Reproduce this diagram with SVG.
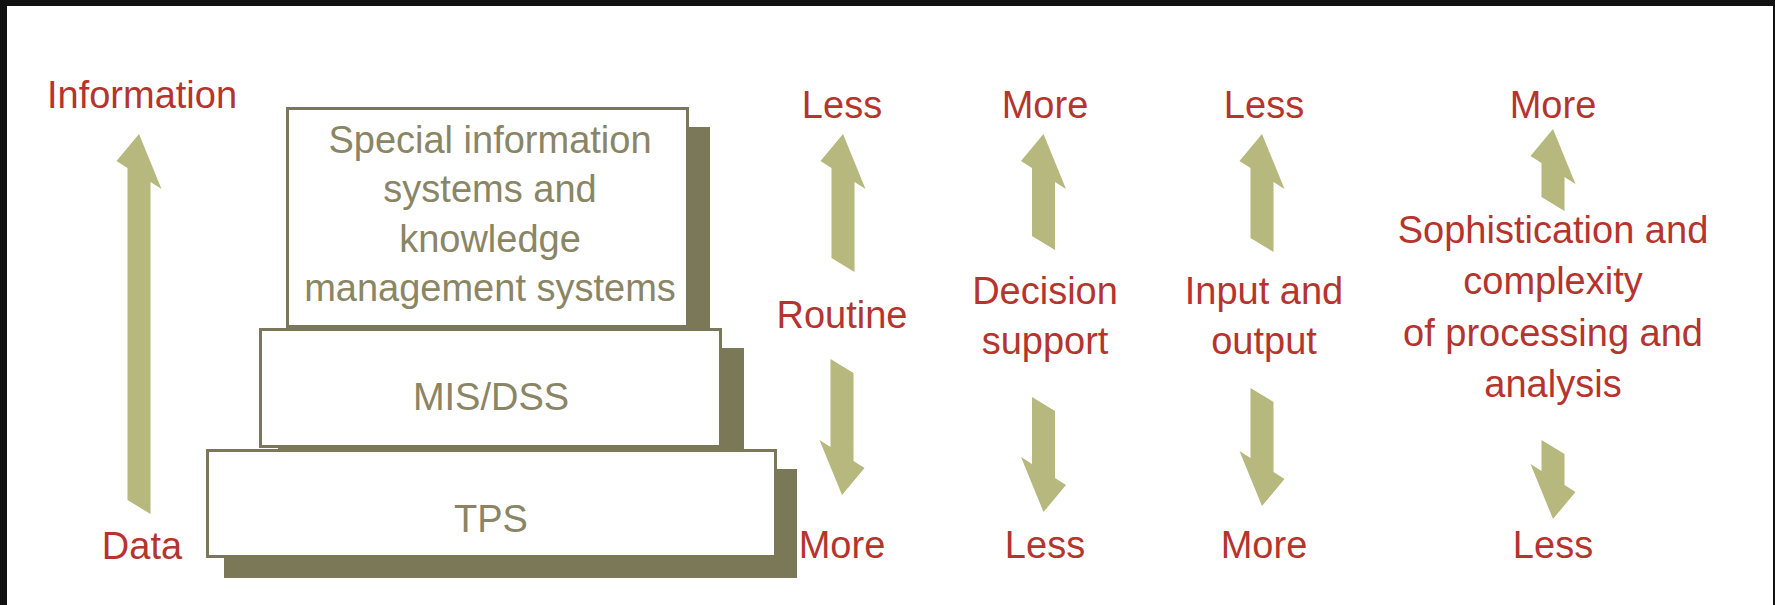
<svg xmlns="http://www.w3.org/2000/svg" width="1775" height="605" viewBox="0 0 1775 605">
<style>
.lbl{font-family:"Liberation Sans",Arial,sans-serif;font-size:38px;fill:#b5342d;text-anchor:middle}
.btx{font-family:"Liberation Sans",Arial,sans-serif;font-size:38px;fill:#8a8564;text-anchor:middle}
.box{fill:#ffffff;stroke:#7b7858;stroke-width:3}
.shd{fill:#7b7858}
.arr{fill:#b6b87d}
</style>
<rect x="0" y="0" width="1775" height="605" fill="#ffffff"/>
<rect x="0" y="0" width="1775" height="6" fill="#111111"/>
<rect x="0" y="0" width="7" height="605" fill="#111111"/>
<rect x="1773" y="0" width="2" height="605" fill="#111111"/>

<g id="box-special">
<rect class="shd" x="305" y="127" width="405" height="220"/>
<rect class="box" x="287.5" y="108.5" width="400" height="218"/>
<text class="btx" x="490" y="153">Special information</text>
<text class="btx" x="490" y="202">systems and</text>
<text class="btx" x="490" y="252">knowledge</text>
<text class="btx" x="490" y="301">management systems</text>
</g>
<g id="box-mis">
<rect class="shd" x="278" y="348" width="466" height="120"/>
<rect class="box" x="260.5" y="329.5" width="460" height="117"/>
<text class="btx" x="491" y="410">MIS/DSS</text>
</g>
<g id="box-tps">
<rect class="shd" x="224" y="469" width="573" height="109"/>
<rect class="box" x="207.5" y="450.5" width="568" height="106"/>
<text class="btx" x="491" y="532">TPS</text>
</g>

<g id="connectors">
<polygon class="arr" points="139,134 161.5,189 150.5,182 150.5,514 127.5,500 127.5,168 116.5,161"/>
<polygon class="arr" points="843,134 865.5,189 854.5,182 854.5,272 831.5,258 831.5,168 820.5,161"/>
<polygon class="arr" points="830.5,359 853.5,373 853.5,461 864.5,468 842,495 819.5,440 830.5,447"/>
<polygon class="arr" points="1043.5,134 1066,189 1055,182 1055,250 1032,236 1032,168 1021,161"/>
<polygon class="arr" points="1032,397 1055,411 1055,478 1066,485 1043.5,512 1021,457 1032,464"/>
<polygon class="arr" points="1262,134 1284.5,189 1273.5,182 1273.5,252 1250.5,238 1250.5,168 1239.5,161"/>
<polygon class="arr" points="1250.5,388 1273.5,402 1273.5,472 1284.5,479 1262,506 1239.5,451 1250.5,458"/>
<polygon class="arr" points="1553,129 1575.5,184 1564.5,177 1564.5,211 1541.5,197 1541.5,163 1530.5,156"/>
<polygon class="arr" points="1541.5,440 1564.5,454 1564.5,485 1575.5,492 1553,519 1530.5,464 1541.5,471"/>
</g>

<g id="label-information"><text class="lbl" x="142" y="108">Information</text></g>
<g id="label-data"><text class="lbl" x="142" y="559">Data</text></g>
<g id="col-routine">
<text class="lbl" x="842" y="118">Less</text>
<text class="lbl" x="842" y="328">Routine</text>
<text class="lbl" x="842" y="558">More</text>
</g>
<g id="col-decision">
<text class="lbl" x="1045" y="118">More</text>
<text class="lbl" x="1045" y="304">Decision</text>
<text class="lbl" x="1045" y="354">support</text>
<text class="lbl" x="1045" y="558">Less</text>
</g>
<g id="col-io">
<text class="lbl" x="1264" y="118">Less</text>
<text class="lbl" x="1264" y="304">Input and</text>
<text class="lbl" x="1264" y="354">output</text>
<text class="lbl" x="1264" y="558">More</text>
</g>
<g id="col-soph">
<text class="lbl" x="1553" y="118">More</text>
<text class="lbl" x="1553" y="243">Sophistication and</text>
<text class="lbl" x="1553" y="294">complexity</text>
<text class="lbl" x="1553" y="346">of processing and</text>
<text class="lbl" x="1553" y="397">analysis</text>
<text class="lbl" x="1553" y="558">Less</text>
</g>
</svg>
